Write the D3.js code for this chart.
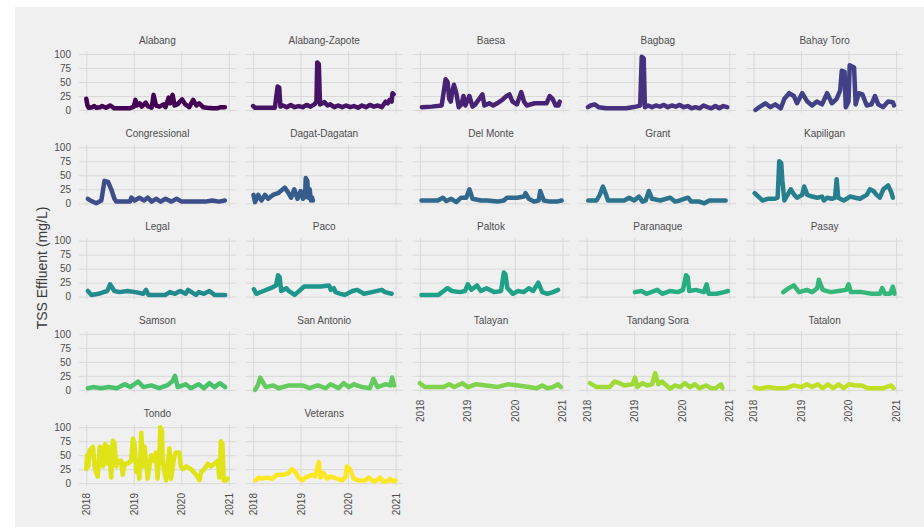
<!DOCTYPE html>
<html lang='en'>
<head>
  <meta charset='UTF-8'>
  <title>TSS Effluent by site</title>
  <style>
  body {
    margin: 0;
    background: white;
  }
  text {
    font-family: 'Liberation Sans', Arial, sans-serif;
  }
  .grid line {
    stroke: #d9d9d9;
    stroke-width: 1;
  }
  .grid path {
    display: none;
  }
  .tick-labels path, .tick-labels line {
    display: none;
  }
  .tick-labels text {
    font-size: 10px;
    fill: #4d4d4d;
  }
  .strip {
    font-size: 10px;
    fill: #4d4d4d;
  }
  .ytitle {
    font-size: 14px;
    fill: #3c3c3c;
  }
  .series {
    fill: none;
    stroke-width: 4.5;
    stroke-linejoin: round;
    stroke-linecap: round;
  }
  </style>
  <script src='https://cdnjs.cloudflare.com/ajax/libs/d3/7.8.5/d3.min.js'></script>
</head>
<body>
  <script>

  // site names in facet order
  var sites = ['Alabang', 'Alabang-Zapote', 'Baesa', 'Bagbag', 'Bahay Toro',
    'Congressional', 'Dagat-Dagatan', 'Del Monte', 'Grant', 'Kapiligan',
    'Legal', 'Paco', 'Paltok', 'Paranaque', 'Pasay',
    'Samson', 'San Antonio', 'Talayan', 'Tandang Sora', 'Tatalon',
    'Tondo', 'Veterans'];

  var yearTicks = [2018, 2019, 2020, 2021];
  var valueTicks = [0, 25, 50, 75, 100];

  // readings: [months since Jan 2018, TSS mg/L]
  var alabang = [[0,20],[0.3,8],[0.6,4],[1.5,5],[2,7],[2.5,4],[3.5,5],[4,7],[5,4],[6,8],[6.5,6],[7,3],[8,3],[10,3],[11,3],[12,6],[12.4,18],[12.8,8],[13.5,12],[14,6],[15,13],[15.5,7],[16.5,4],[17,27],[17.6,8],[18.5,6],[19.5,10],[20,5],[20.8,22],[21.2,12],[21.8,27],[22.3,8],[23,10],[24.2,19],[25,10],[26,5],[27,18],[27.8,8],[28.5,12],[29.5,5],[30.5,4],[32,3],[33,3],[34,5],[35,5]];
  var alabangZapote = [[0,7],[0.5,4],[3,4],[5.5,4],[6.2,42],[6.6,40],[6.9,6],[7.5,8],[8.5,5],[9.5,9],[10.5,5],[11.5,7],[12.5,5],[13.5,9],[14.5,6],[15.5,10],[16,15],[16.2,85],[16.6,82],[16.9,10],[17.5,12],[18,14],[18.8,8],[19.5,10],[20.5,5],[21.5,8],[22.5,5],[23.5,8],[24.5,5],[25.5,7],[26.5,4],[27.5,8],[28.5,5],[29.5,9],[30.5,6],[31.5,8],[32.5,5],[33.5,15],[34,12],[34.5,18],[35,15],[35.2,30],[35.5,28]];
  var baesa = [[0.5,5],[3,6],[5.5,8],[6.5,55],[7,50],[7.4,20],[7.8,15],[8.1,30],[8.6,45],[9.2,30],[9.8,5],[10.5,10],[11,25],[11.5,8],[12.5,25],[13.3,6],[14,10],[15.8,28],[16.3,8],[17.5,12],[18.5,8],[19.5,12],[20.8,18],[21.7,24],[22.6,28],[23.4,15],[24.5,10],[25.6,32],[26.3,15],[27,8],[29,12],[30.5,12],[32,12],[32.8,25],[33.5,20],[34.3,8],[35,8],[35.3,15]];
  var bagbag = [[0.3,5],[1,8],[2,10],[3,5],[5,3],[8,3],[10,3],[11.5,5],[12.5,6],[13.5,8],[13.9,95],[14.4,92],[14.7,5],[15.5,8],[16.5,5],[17.5,8],[18.5,6],[19.5,9],[20.5,5],[21.5,8],[22.5,6],[23.5,9],[24.5,5],[25.5,7],[26.5,3],[27.5,5],[28.5,3],[29.5,8],[30.5,5],[31.5,3],[32.5,7],[33.5,3],[34.5,7],[35.5,5]];
  var bahayToro = [[0.5,0],[1.5,5],[3,12],[4.3,5],[5.5,10],[6.9,3],[7.8,20],[9,30],[10.2,25],[11,12],[12.3,30],[13.6,15],[14.8,8],[16,15],[17.3,10],[18.6,30],[19.8,12],[21,20],[21.9,35],[22.3,70],[23,68],[23.3,5],[24,15],[24.3,80],[25.4,76],[25.8,10],[26.6,30],[27.5,28],[28.6,8],[29.8,10],[30.7,25],[31.5,10],[32.7,5],[34,15],[35.2,14],[35.5,8]];
  var congressional = [[0.4,8],[1.3,4],[2.5,0],[3.8,5],[4.6,40],[5.5,38],[6.3,25],[7.1,8],[7.6,3],[11,3],[11.4,10],[12.2,5],[13.4,10],[14.6,5],[15.5,10],[16.5,3],[17.6,8],[18.8,3],[20,8],[21.5,3],[22.8,8],[24.1,3],[26,3],[28,3],[30,3],[31.8,5],[33.5,3],[35,5]];
  var dagatDagatan = [[0.1,15],[0.5,2],[1.3,15],[2.1,5],[3,15],[3.8,8],[5,15],[6.3,18],[8,28],[8.8,20],[9.6,10],[10.4,25],[11.2,8],[12,22],[12.6,8],[13.1,12],[13.3,45],[13.7,40],[13.9,10],[14.3,25],[14.6,5],[14.9,10],[15.1,5]];
  var delMonte = [[0.4,5],[2,5],[4.5,5],[5.8,10],[6.7,4],[7.9,8],[9.2,2],[10.4,10],[11.7,10],[12.5,25],[13.3,8],[15.4,5],[17,5],[19.6,3],[21.2,5],[22,10],[24.6,10],[26.3,12],[26.7,18],[27.5,8],[28.8,3],[30,5],[30.4,22],[31.3,5],[32.9,3],[34.6,3],[35.8,5]];
  var grant = [[0.4,5],[2.5,5],[3.3,15],[4.1,30],[4.9,15],[5.4,5],[7,5],[9.5,5],[10.7,10],[12,5],[13.2,12],[14.1,3],[14.9,5],[15.7,22],[16.5,8],[18.6,5],[21.1,10],[22.3,3],[23.5,5],[25.6,10],[26.4,3],[28.5,3],[29.7,0],[31,5],[33.5,5],[35.1,5]];
  var kapiligan = [[0.3,18],[1.5,10],[2.3,5],[3.6,8],[5.3,8],[6.1,10],[6.5,75],[7,72],[7.3,40],[7.8,5],[8.6,15],[9.4,25],[10.3,15],[11,10],[12.3,15],[12.8,30],[13.6,15],[14.8,12],[16.1,10],[17.3,12],[17.8,5],[18.6,10],[19.8,8],[20.6,10],[21,43],[21.4,10],[22.8,5],[24.4,12],[25.7,10],[26.9,8],[28.6,15],[29.4,25],[30.3,22],[31.1,15],[31.9,10],[32.8,25],[34,32],[34.8,20],[35.2,10]];
  var legal = [[0.4,10],[1.3,3],[3.1,5],[4.4,8],[5.3,10],[6,22],[7.1,10],[8.4,8],[10.4,10],[12.4,8],[14.4,5],[15.1,12],[15.7,3],[20,3],[21.1,8],[22.4,5],[23.7,10],[25.1,5],[25.7,12],[27.7,3],[28.4,8],[29.7,5],[31.1,10],[32.4,3],[35.1,3]];
  var paco = [[0.2,13],[0.8,5],[2.6,10],[4.4,15],[5.8,20],[6.3,38],[6.7,35],[7.1,10],[8.4,15],[9,10],[10.5,3],[11.3,8],[12.9,18],[14.9,18],[17,18],[19.2,20],[19.6,12],[20.4,15],[20.8,8],[22.1,5],[23.1,3],[25.1,10],[26.3,12],[28,5],[30,8],[32.5,12],[33.3,8],[35,5]];
  var paltok = [[0.4,3],[4.7,3],[6,10],[7,15],[8.1,10],[10.1,8],[11.4,10],[12.1,22],[13,12],[14.4,20],[15.4,10],[16.8,15],[18.8,8],[20.5,10],[21.2,43],[21.6,40],[22.1,15],[23.5,5],[24.8,10],[26.2,8],[27.5,15],[28.6,10],[29.9,25],[30.9,8],[32.2,5],[33.6,8],[34.9,12]];
  var paranaque = [[12.2,8],[13.8,10],[15.1,5],[17.8,12],[19.1,5],[21.1,10],[23,8],[24.3,12],[25.1,38],[25.5,35],[25.9,10],[27.6,12],[29.6,8],[30.3,22],[30.8,5],[32.8,5],[34.7,8],[35.7,10]];
  var pasay = [[7.5,8],[8.9,15],[10.2,20],[11.5,8],[13.5,12],[14.8,8],[16.1,15],[16.5,30],[17.5,12],[19.5,8],[21.5,10],[23.4,12],[24,22],[24.6,8],[27.3,8],[29.9,5],[31.9,5],[32.5,15],[33.2,5],[34.5,5],[35.2,18],[35.6,5]];
  var samson = [[0.4,3],[1.7,5],[3.7,3],[5.7,5],[7.7,3],[9.7,10],[11.1,5],[13.1,15],[14.4,5],[16.4,8],[18.4,3],[20.4,8],[21.7,15],[22.4,25],[23.1,5],[25.1,10],[26.4,3],[28.4,10],[29.7,3],[31.1,12],[32.4,5],[33.7,12],[35.1,5]];
  var sanAntonio = [[0.5,0],[1.2,8],[1.8,22],[3.2,5],[5.1,8],[6.4,3],[9.1,8],[12.4,8],[14.3,3],[16.3,8],[18.3,3],[19.6,10],[21.6,3],[22.9,12],[24.2,5],[25.5,10],[27.5,5],[29.5,3],[30.4,20],[31.4,5],[33.4,10],[34.7,8],[35.1,22],[35.6,8]];
  var talayan = [[0,12],[1.3,5],[3.4,5],[6,5],[7.4,10],[8.7,5],[10.7,12],[12.1,5],[14.1,10],[16.8,8],[19.5,5],[22.1,10],[24.8,8],[27.5,5],[29.5,3],[30.9,8],[32.2,3],[33.6,5],[34.9,10],[35.6,5]];
  var tandangSora = [[0.8,12],[2.5,5],[5.8,5],[7,15],[8.3,12],[9.5,8],[11.6,10],[12.2,22],[12.8,5],[14,12],[15.3,8],[16.5,10],[17.3,30],[18.1,10],[19,15],[19.8,10],[21.1,2],[22.3,8],[23.6,5],[24.8,12],[26.1,5],[27.3,10],[28.5,3],[30.2,8],[31.4,3],[32.6,3],[33.9,10],[34.3,3]];
  var tatalon = [[0.3,5],[1.6,2],[3.6,5],[5.6,3],[8.2,3],[10.2,8],[12.2,5],[13.5,10],[14.8,5],[16.2,10],[17.5,3],[18.8,10],[20.1,3],[21.5,10],[22.8,3],[24.1,10],[25.5,8],[27.4,8],[28.8,3],[32.8,3],[34.8,8],[35.4,3]];
  var tondo = [[0,25],[0.2,50],[0.5,30],[0.8,58],[1.7,65],[2.1,30],[2.5,18],[2.9,12],[3.4,65],[3.8,60],[4.2,30],[4.5,65],[4.8,70],[5.1,35],[5.5,65],[5.9,45],[6.3,10],[6.7,76],[7.1,72],[7.6,30],[8,40],[8.8,40],[9.2,15],[9.7,35],[10.5,35],[11.3,40],[11.8,80],[12.2,70],[12.6,20],[13,40],[13.4,8],[13.9,90],[14.3,30],[14.7,65],[15.1,40],[15.5,8],[16.4,50],[17.2,40],[17.6,55],[18,8],[18.5,60],[18.7,100],[19.1,95],[19.3,40],[19.7,20],[20.2,5],[20.6,40],[21,62],[21.4,8],[22.3,50],[22.7,55],[23.5,55],[23.9,30],[24.4,25],[25.2,30],[26.5,25],[27.7,15],[28.6,5],[29,20],[29.8,25],[30.7,35],[31.5,30],[32.4,35],[33.2,40],[33.6,10],[34,75],[34.4,70],[34.7,5],[35.3,5],[35.7,8]];
  var veterans = [[0.6,5],[1.4,10],[2.3,8],[3.5,10],[4.8,8],[6,15],[7.7,15],[9,18],[9.8,25],[10.7,20],[11.5,10],[12.4,5],[13.2,10],[14.9,15],[15.7,12],[16.6,38],[17,10],[17.8,18],[18.7,8],[19.5,12],[20.4,10],[21.2,8],[22.4,5],[23.3,10],[23.7,30],[24.5,25],[25.4,8],[26.6,5],[28.3,5],[29.2,10],[30,5],[30.8,3],[32.1,10],[32.9,3],[33.8,3],[34.6,8],[35.5,3],[36,5]];

  var seriesList = [alabang, alabangZapote, baesa, bagbag, bahayToro,
    congressional, dagatDagatan, delMonte, grant, kapiligan,
    legal, paco, paltok, paranaque, pasay,
    samson, sanAntonio, talayan, tandangSora, tatalon,
    tondo, veterans];

  var svgWidth = 924;
  var svgHeight = 531;
  var nCols = 5;
  var nRows = Math.ceil(sites.length / nCols);

  var svg = d3.select('body').append('svg')
    .attr('width', svgWidth)
    .attr('height', svgHeight);

  svg.append('rect')
    .attr('x', 15).attr('y', 7)
    .attr('width', svgWidth - 15).attr('height', 520)
    .attr('fill', '#f0f0f0');

  var col = d3.scaleBand().domain(d3.range(nCols)).range([79, 903]).paddingInner(0.06);
  var row = d3.scaleBand().domain(d3.range(nRows)).range([51.2, 486]).paddingInner(0.34);
  var pw = col.bandwidth();
  var ph = row.bandwidth();

  function toDate(m) {
    return new Date(Date.UTC(2018, 0, 1) + m * 30.4375 * 864e5);
  }

  var x = d3.scaleUtc().domain([toDate(-1.84), toDate(37.76)]).range([0, pw]);
  var y = d3.scaleLinear().domain([-5, 105]).range([ph, 0]);
  var yearDates = yearTicks.map(function (yr) { return new Date(Date.UTC(yr, 0, 1)); });

  var line = d3.line()
    .x(function (d) { return x(toDate(d[0])); })
    .y(function (d) { return y(d[1]); });

  sites.forEach(function (site, i) {
    var c = i % nCols;
    var r = Math.floor(i / nCols);
    var g = svg.append('g').attr('transform', 'translate(' + col(c) + ',' + row(r) + ')');

    // grid

    g.append('g')
      .attr('class', 'grid')
      .call(d3.axisLeft(y).tickValues(valueTicks).tickSize(-pw).tickFormat(''));

    g.append('g')
      .attr('class', 'grid')
      .attr('transform', 'translate(0,' + ph + ')')
      .call(d3.axisBottom(x).tickValues(yearDates).tickSize(ph).tickSizeInner(-ph).tickFormat(''));

    // strip title

    g.append('text')
      .attr('class', 'strip')
      .attr('x', pw / 2)
      .attr('y', -7.5)
      .attr('text-anchor', 'middle')
      .text(site);

    // series line

    g.append('path')
      .datum(seriesList[i])
      .attr('class', 'series')
      .attr('stroke', d3.interpolateViridis(i / (sites.length - 1)))
      .attr('d', line);

    // y labels on first column

    if (c === 0) {
      g.append('g')
        .attr('class', 'tick-labels')
        .call(d3.axisLeft(y).tickValues(valueTicks).tickSize(0).tickPadding(8));
    }

    // x labels under last panel of each column

    if (i + nCols >= sites.length) {
      g.append('g')
        .attr('class', 'tick-labels')
        .attr('transform', 'translate(0,' + ph + ')')
        .call(d3.axisBottom(x).tickValues(yearDates).tickSize(0).tickFormat(d3.utcFormat('%Y')))
        .selectAll('text')
        .attr('transform', 'rotate(-90)')
        .attr('text-anchor', 'end')
        .attr('x', -7)
        .attr('y', 0)
        .attr('dy', '0.35em');
    }
  });

  // y axis title

  svg.append('text')
    .attr('class', 'ytitle')
    .attr('text-anchor', 'middle')
    .attr('transform', 'translate(47,268) rotate(-90)')
    .text('TSS Effluent (mg/L)');
  </script>
</body>
</html>
